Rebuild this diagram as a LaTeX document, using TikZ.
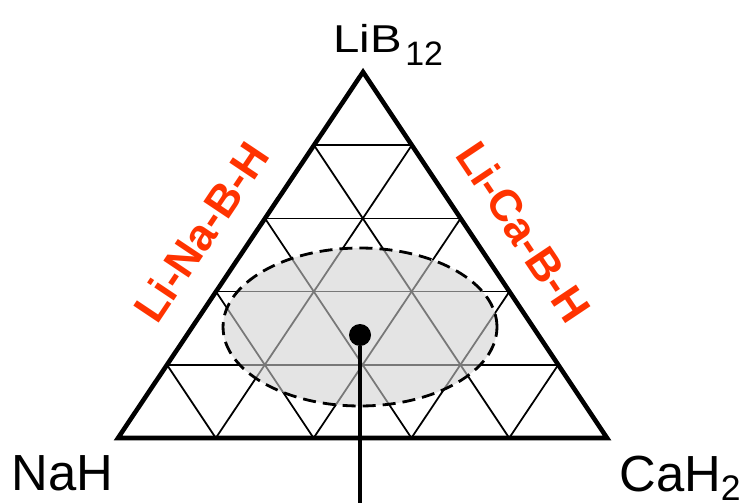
\documentclass[tikz,border=0pt]{standalone}
\usepackage{fontspec}
\setmainfont{Liberation Sans}
\usetikzlibrary{calc}
\definecolor{edgered}{RGB}{255,51,0}
\definecolor{shade}{RGB}{208,208,208}

\begin{document}
\begin{tikzpicture}[
    x=0.02cm, y=-0.02cm,
    frame/.style={line width=2.6pt, line join=miter},
    grid/.style={line width=1pt, color=black},
    region/.style={fill=shade, fill opacity=0.58},
    rim/.style={dash pattern=on 7.4pt off 4pt, line width=1.6pt},
    corner/.style={inner sep=0pt, font=\fontsize{28.9pt}{30pt}\selectfont},
    side/.style={inner sep=0pt, text=edgered, font=\bfseries\fontsize{25.2pt}{26pt}\selectfont},
    dot/.style={circle, fill=black, inner sep=0pt, minimum size=0.44cm},
    stem/.style={line width=2.3pt}
    ]
    \useasboundingbox (0,0) rectangle (742,503);

    % corners of the composition triangle
    \coordinate (lib) at (363,72);
    \coordinate (nah) at (118,438);
    \coordinate (cah) at (607,438);

    % grid, 5 steps per side
    \foreach \i in {1,...,4} {
        \draw[grid] ($(nah)!\i/5!(lib)$) -- ($(cah)!\i/5!(lib)$);
        \draw[grid] ($(nah)!\i/5!(cah)$) -- ($(lib)!\i/5!(cah)$);
        \draw[grid] ($(nah)!\i/5!(cah)$) -- ($(nah)!\i/5!(lib)$);
    }

    % shaded region
    \fill[region] (360,327) ellipse [x radius=2.74cm, y radius=1.58cm];
    \draw[rim] (360,327) ellipse [x radius=2.74cm, y radius=1.58cm];

    \draw[frame] (lib) -- (nah) -- (cah) -- cycle;

    % composition point
    \node[dot] (pt) at (360,335) {};
    \coordinate (tail) at (360,503);
    \draw[stem] (pt) -- (tail);

    % labels
    \node[inner sep=0pt, anchor=base west, font=\fontsize{22.1pt}{24pt}\selectfont] (liblabel) at (333,53)
        {\scalebox{1.22}[1]{LiB}\kern2pt\raisebox{-7.4pt}{\fontsize{19.3pt}{20pt}\selectfont 12}};
    \node[corner, anchor=base west] (nahlabel) at (11,490) {NaH};
    \node[corner, anchor=base west] (cahlabel) at (619,491) {CaH\textsubscript{2}};
    \node[side, rotate=56.2] (nalabel) at (201,232) {Li-Na-B-H};
    \node[side, rotate=-56.2] (calabel) at (524,232) {Li-Ca-B-H};
\end{tikzpicture}
\end{document}
